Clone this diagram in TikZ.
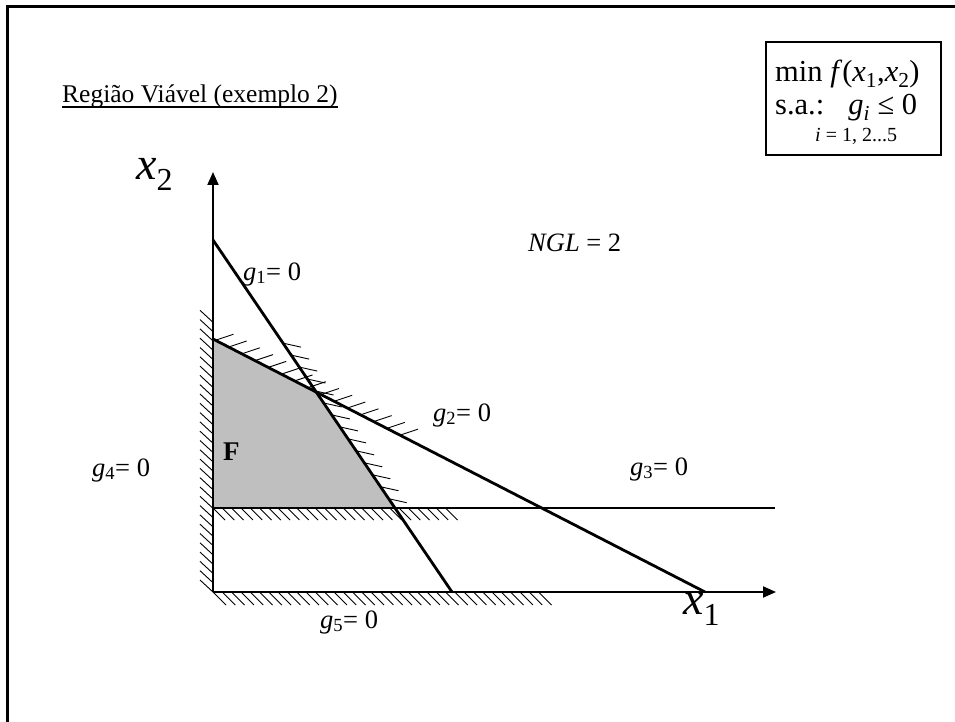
\documentclass[tikz,border=0pt]{standalone}
\usepackage{fontspec}
\setmainfont{Liberation Serif}
\usepackage{tikz}
\usetikzlibrary{arrows.meta, calc}

\tikzset{
  cline/.style={line width=2.8pt},
  axisline/.style={line width=2pt, -{Triangle[length=13pt,width=11pt]}},
  hatch/.style={line width=0.9pt},
  lbl/.style={inner sep=0pt, anchor=base west, font=\fontsize{26.5}{30}\selectfont},
}
\newcommand{\gzero}[1]{\textit{g}\textsubscript{#1}= 0}

\begin{document}
\begin{tikzpicture}[x=1pt, y=-1pt]
    \useasboundingbox (0,0) rectangle (955,722);
    \draw[line width=3pt] (7,722) -- (7,7) -- (955,7);

    % corners of the feasible region
    \coordinate (O) at (213,592);
    \coordinate (A) at (213,339);
    \coordinate (B) at (315,391);
    \coordinate (C) at (395,508);
    \coordinate (D) at (213,508);
    \fill[gray!50] (A) -- (B) -- (C) -- (D) -- cycle;

    % axes
    \coordinate (X1) at (776,592);
    \coordinate (X2) at (213,172);
    \draw[axisline] (O) -- (X1);
    \draw[axisline] (O) -- (X2);

    % constraint lines
    \coordinate (g1a) at (213,240); \coordinate (g1b) at (452,592);
    \coordinate (g2b) at (705,592);
    \coordinate (g3b) at (775,508);
    \draw[cline] (g1a) -- (g1b);
    \draw[cline] (A) -- (g2b);
    \draw[cline] (D) -- (g3b);

    % hatching
    \foreach \i in {0,...,29} \draw[hatch] ($(O)+(0,-9.3*\i)$) -- ++(-13,-12);
    \foreach \i in {0,...,35} \draw[hatch] ($(O)+(9.3*\i,0)$) -- ++(13,13);
    \foreach \i in {0,...,25} \draw[hatch] ($(D)+(9.3*\i,0)$) -- ++(12,12);
    \foreach \i in {0,...,13} \draw[hatch] ($(g1a)!{0.293+0.034*\i}!(g1b)$) -- ++(18,4);
    \foreach \i in {0,...,14} \draw[hatch] ($(A)!{0.005+0.0268*\i}!(g2b)$) -- ++(18,-6);

    \node[lbl, font=\fontsize{25.5}{30}\selectfont] (title) at (62,103) {Região Viável (exemplo 2)};
    \draw[line width=1.6pt] ([yshift=-4pt]title.base west) -- ([yshift=-4pt]title.base east);

    \node[lbl] (g1lbl) at (243,280) {\gzero{1}};
    \node[lbl] (g2lbl) at (433,421) {\gzero{2}};
    \node[lbl] (g3lbl) at (630,475) {\gzero{3}};
    \node[lbl] (g4lbl) at (92,476) {\gzero{4}};
    \node[lbl] (g5lbl) at (320,628) {\gzero{5}};
    \node[lbl] (ngl) at (528,251) {\textit{NGL} = 2};
    \node[lbl, font=\fontsize{27}{30}\selectfont\bfseries] (F) at (223,460) {F};

    \node[lbl, font=\fontsize{46}{50}\selectfont] (x1lbl) at (683,614) {\textit{x}\raisebox{-11pt}{\fontsize{32}{32}\selectfont 1}};
    \node[lbl, font=\fontsize{46}{50}\selectfont] (x2lbl) at (136,180) {\textit{x}\raisebox{-11pt}{\fontsize{32}{32}\selectfont 2}};

    % problem statement box
    \draw[line width=1.3pt] (766,42) rectangle (941,155);
    \node[lbl, font=\fontsize{30.5}{34}\selectfont] (obj) at (775,82) {min \textit{f}(\textit{x}\textsubscript{1},\textit{x}\textsubscript{2})};
    \node[lbl, font=\fontsize{30.5}{34}\selectfont] (sa) at (775,115) {s.a.:\hspace{24pt}\textit{g}\textsubscript{\textit{i}} ≤ 0};
    \node[lbl, font=\fontsize{20}{22}\selectfont] (idx) at (815,142) {\textit{i} = 1, 2...5};
\end{tikzpicture}
\end{document}
